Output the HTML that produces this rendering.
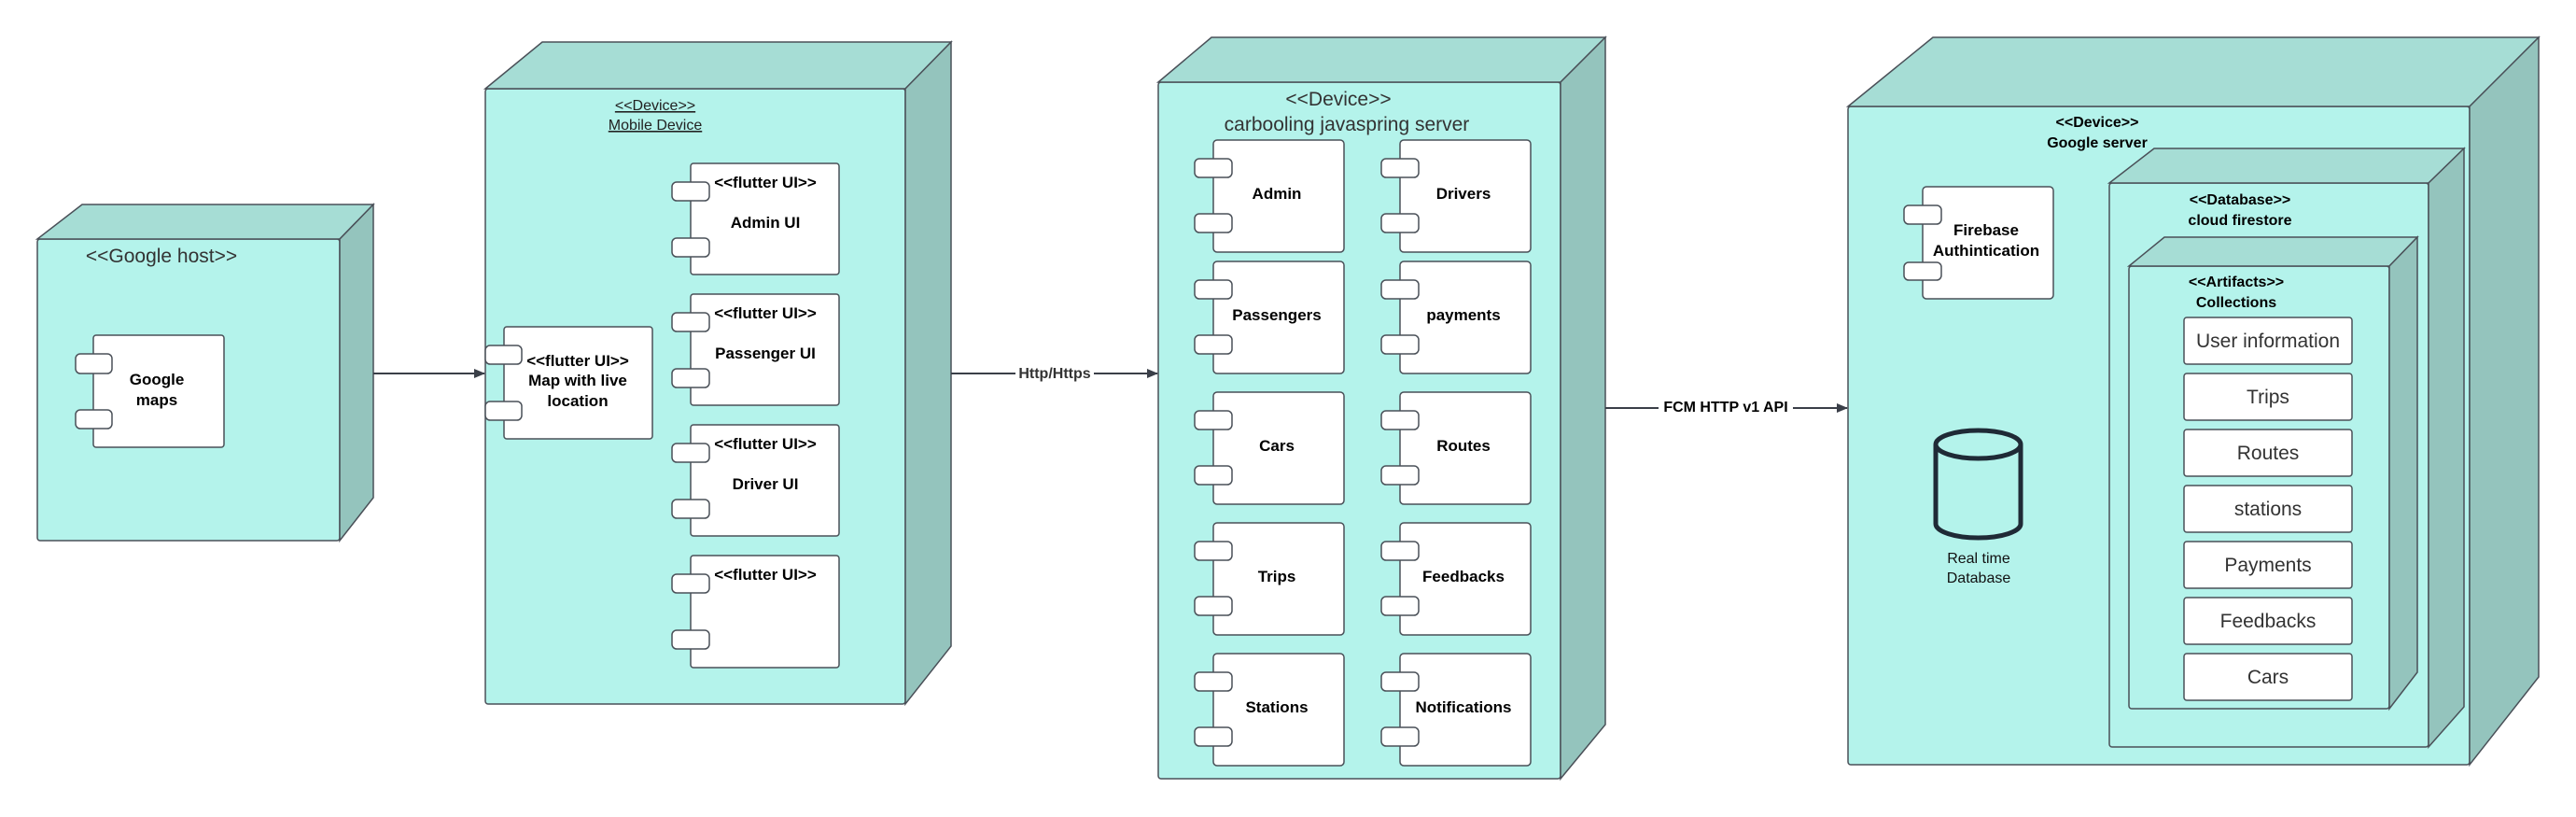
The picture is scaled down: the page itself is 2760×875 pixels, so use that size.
<!DOCTYPE html>
<html><head><meta charset="utf-8"><style>
html,body{margin:0;padding:0;background:#fff;}
svg{display:block;}
text{font-family:"Liberation Sans",Arial,sans-serif;}
.f{fill:#b4f3eb;stroke:#4a5058;stroke-width:1.5;}
.t{fill:#a6ddd5;stroke:#4a5058;stroke-width:1.5;}
.s{fill:#94c4bd;stroke:#4a5058;stroke-width:1.5;}
.w{fill:#fff;stroke:#4a5058;stroke-width:1.5;}
.b{font-weight:bold;font-size:17px;fill:#000;text-anchor:middle;}
.r{font-size:21px;fill:#333;text-anchor:middle;}
.l{stroke:#3a3f48;stroke-width:2;fill:none;}
</style></head><body>
<svg width="2760" height="875" viewBox="0 0 2760 875" xmlns="http://www.w3.org/2000/svg">
<defs><marker id="a" markerWidth="12" markerHeight="10" refX="11" refY="5" orient="auto" markerUnits="userSpaceOnUse"><path d="M0,0 L12,5 L0,10 z" fill="#3a3f48"/></marker></defs>

<!-- Google host -->
<rect class="f" x="40" y="256" width="324" height="323" rx="3"/>
<polygon class="t" points="40,256 88,219 400,219 364,256"/>
<polygon class="s" points="364,256 400,219 400,533 364,579"/>
<text x="173" y="281" class="r" style="font-size:21px">&lt;&lt;Google host&gt;&gt;</text>
<rect class="w" x="100" y="359" width="140" height="120" rx="3"/>
<rect class="w" x="81" y="379" width="39" height="21" rx="5"/>
<rect class="w" x="81" y="439" width="39" height="20" rx="5"/>
<text x="168" y="412" class="b">Google</text><text x="168" y="434" class="b">maps</text>

<!-- Mobile -->
<rect class="f" x="520" y="95" width="450" height="659" rx="3"/>
<polygon class="t" points="520,95 581,45 1019,45 970,95"/>
<polygon class="s" points="970,95 1019,45 1019,692 970,754"/>
<text x="702" y="118" style="font-size:16px;text-anchor:middle;text-decoration:underline;fill:#222">&lt;&lt;Device&gt;&gt;</text>
<text x="702" y="139" style="font-size:16px;text-anchor:middle;text-decoration:underline;fill:#222">Mobile Device</text>
<rect class="w" x="540" y="350" width="159" height="120" rx="3"/>
<rect class="w" x="520" y="370" width="39" height="20" rx="5"/>
<rect class="w" x="520" y="430" width="39" height="20" rx="5"/>
<text x="619" y="392" class="b">&lt;&lt;flutter UI&gt;&gt;</text>
<text x="619" y="413" class="b">Map with live</text>
<text x="619" y="435" class="b">location</text>

<g>
<rect class="w" x="740" y="175" width="159" height="119" rx="3"/><rect class="w" x="720" y="195" width="40" height="20" rx="5"/><rect class="w" x="720" y="255" width="40" height="20" rx="5"/>
<text x="820" y="201" class="b">&lt;&lt;flutter UI&gt;&gt;</text><text x="820" y="244" class="b">Admin UI</text>
<rect class="w" x="740" y="315" width="159" height="119" rx="3"/><rect class="w" x="720" y="335" width="40" height="20" rx="5"/><rect class="w" x="720" y="395" width="40" height="20" rx="5"/>
<text x="820" y="341" class="b">&lt;&lt;flutter UI&gt;&gt;</text><text x="820" y="384" class="b">Passenger UI</text>
<rect class="w" x="740" y="455" width="159" height="119" rx="3"/><rect class="w" x="720" y="475" width="40" height="20" rx="5"/><rect class="w" x="720" y="535" width="40" height="20" rx="5"/>
<text x="820" y="481" class="b">&lt;&lt;flutter UI&gt;&gt;</text><text x="820" y="524" class="b">Driver UI</text>
<rect class="w" x="740" y="595" width="159" height="120" rx="3"/><rect class="w" x="720" y="615" width="40" height="20" rx="5"/><rect class="w" x="720" y="675" width="40" height="20" rx="5"/>
<text x="820" y="621" class="b">&lt;&lt;flutter UI&gt;&gt;</text>
</g>

<!-- Server -->
<rect class="f" x="1241" y="88" width="431" height="746" rx="3"/>
<polygon class="t" points="1241,88 1298,40 1720,40 1672,88"/>
<polygon class="s" points="1672,88 1720,40 1720,776 1672,834"/>
<text x="1434" y="113" class="r">&lt;&lt;Device&gt;&gt;</text>
<text x="1443" y="140" class="r">carbooling javaspring server</text>
<g>
<rect class="w" x="1300" y="150" width="140" height="120" rx="4"/><rect class="w" x="1280" y="170" width="40" height="20" rx="5"/><rect class="w" x="1280" y="229" width="40" height="20" rx="5"/><text x="1368" y="213" class="b">Admin</text>
<rect class="w" x="1500" y="150" width="140" height="120" rx="4"/><rect class="w" x="1480" y="170" width="40" height="20" rx="5"/><rect class="w" x="1480" y="229" width="40" height="20" rx="5"/><text x="1568" y="213" class="b">Drivers</text>
<rect class="w" x="1300" y="280" width="140" height="120" rx="4"/><rect class="w" x="1280" y="300" width="40" height="20" rx="5"/><rect class="w" x="1280" y="359" width="40" height="20" rx="5"/><text x="1368" y="343" class="b">Passengers</text>
<rect class="w" x="1500" y="280" width="140" height="120" rx="4"/><rect class="w" x="1480" y="300" width="40" height="20" rx="5"/><rect class="w" x="1480" y="359" width="40" height="20" rx="5"/><text x="1568" y="343" class="b">payments</text>
<rect class="w" x="1300" y="420" width="140" height="120" rx="4"/><rect class="w" x="1280" y="440" width="40" height="20" rx="5"/><rect class="w" x="1280" y="499" width="40" height="20" rx="5"/><text x="1368" y="483" class="b">Cars</text>
<rect class="w" x="1500" y="420" width="140" height="120" rx="4"/><rect class="w" x="1480" y="440" width="40" height="20" rx="5"/><rect class="w" x="1480" y="499" width="40" height="20" rx="5"/><text x="1568" y="483" class="b">Routes</text>
<rect class="w" x="1300" y="560" width="140" height="120" rx="4"/><rect class="w" x="1280" y="580" width="40" height="20" rx="5"/><rect class="w" x="1280" y="639" width="40" height="20" rx="5"/><text x="1368" y="623" class="b">Trips</text>
<rect class="w" x="1500" y="560" width="140" height="120" rx="4"/><rect class="w" x="1480" y="580" width="40" height="20" rx="5"/><rect class="w" x="1480" y="639" width="40" height="20" rx="5"/><text x="1568" y="623" class="b">Feedbacks</text>
<rect class="w" x="1300" y="700" width="140" height="120" rx="4"/><rect class="w" x="1280" y="720" width="40" height="20" rx="5"/><rect class="w" x="1280" y="779" width="40" height="20" rx="5"/><text x="1368" y="763" class="b">Stations</text>
<rect class="w" x="1500" y="700" width="140" height="120" rx="4"/><rect class="w" x="1480" y="720" width="40" height="20" rx="5"/><rect class="w" x="1480" y="779" width="40" height="20" rx="5"/><text x="1568" y="763" class="b">Notifications</text>
</g>

<!-- Google server -->
<rect class="f" x="1980" y="114" width="666" height="705" rx="3"/>
<polygon class="t" points="1980,114 2071,40 2720,40 2646,114"/>
<polygon class="s" points="2646,114 2720,40 2720,725 2646,819"/>
<text x="2247" y="136" class="b" style="font-size:16px">&lt;&lt;Device&gt;&gt;</text>
<text x="2247" y="158" class="b" style="font-size:16px">Google server</text>
<rect class="w" x="2060" y="200" width="140" height="120" rx="4"/>
<rect class="w" x="2040" y="220" width="40" height="20" rx="5"/>
<rect class="w" x="2040" y="281" width="40" height="19" rx="5"/>
<text x="2128" y="252" class="b">Firebase</text><text x="2128" y="274" class="b">Authintication</text>
<path d="M2074,476 L2074,561 A45.5,15 0 0 0 2165,561 L2165,476" fill="none" stroke="#1f2a36" stroke-width="5"/>
<ellipse cx="2119.5" cy="476" rx="45.5" ry="15" fill="none" stroke="#1f2a36" stroke-width="5"/>
<text x="2120" y="603" style="font-size:16px;text-anchor:middle;fill:#111">Real time</text>
<text x="2120" y="624" style="font-size:16px;text-anchor:middle;fill:#111">Database</text>

<rect class="f" x="2260" y="196" width="342" height="604" rx="3"/>
<polygon class="t" points="2260,196 2308,159 2640,159 2602,196"/>
<polygon class="s" points="2602,196 2640,159 2640,757 2602,800"/>
<text x="2400" y="219" class="b" style="font-size:16px">&lt;&lt;Database&gt;&gt;</text>
<text x="2400" y="241" class="b" style="font-size:16px">cloud firestore</text>

<rect class="f" x="2281" y="285" width="279" height="474" rx="3"/>
<polygon class="t" points="2281,285 2319,254 2590,254 2560,285"/>
<polygon class="s" points="2560,285 2590,254 2590,720 2560,759"/>
<text x="2396" y="307" class="b" style="font-size:16px">&lt;&lt;Artifacts&gt;&gt;</text>
<text x="2396" y="329" class="b" style="font-size:16px">Collections</text>
<g>
<rect class="w" x="2340" y="340" width="180" height="50" rx="3"/><text x="2430" y="372" class="r">User information</text>
<rect class="w" x="2340" y="400" width="180" height="50" rx="3"/><text x="2430" y="432" class="r">Trips</text>
<rect class="w" x="2340" y="460" width="180" height="50" rx="3"/><text x="2430" y="492" class="r">Routes</text>
<rect class="w" x="2340" y="520" width="180" height="50" rx="3"/><text x="2430" y="552" class="r">stations</text>
<rect class="w" x="2340" y="580" width="180" height="50" rx="3"/><text x="2430" y="612" class="r">Payments</text>
<rect class="w" x="2340" y="640" width="180" height="50" rx="3"/><text x="2430" y="672" class="r">Feedbacks</text>
<rect class="w" x="2340" y="700" width="180" height="50" rx="3"/><text x="2430" y="732" class="r">Cars</text>
</g>

<!-- connectors -->
<line class="l" x1="400" y1="400" x2="519" y2="400" marker-end="url(#a)"/>
<line class="l" x1="1019" y1="400" x2="1088" y2="400"/>
<line class="l" x1="1172" y1="400" x2="1240" y2="400" marker-end="url(#a)"/>
<text x="1130" y="405" class="b" style="font-size:16px;fill:#333">Http/Https</text>
<line class="l" x1="1720" y1="437" x2="1777" y2="437"/>
<line class="l" x1="1921" y1="437" x2="1979" y2="437" marker-end="url(#a)"/>
<text x="1849" y="441" class="b" style="font-size:16px">FCM HTTP v1 API</text>
</svg>
</body></html>
